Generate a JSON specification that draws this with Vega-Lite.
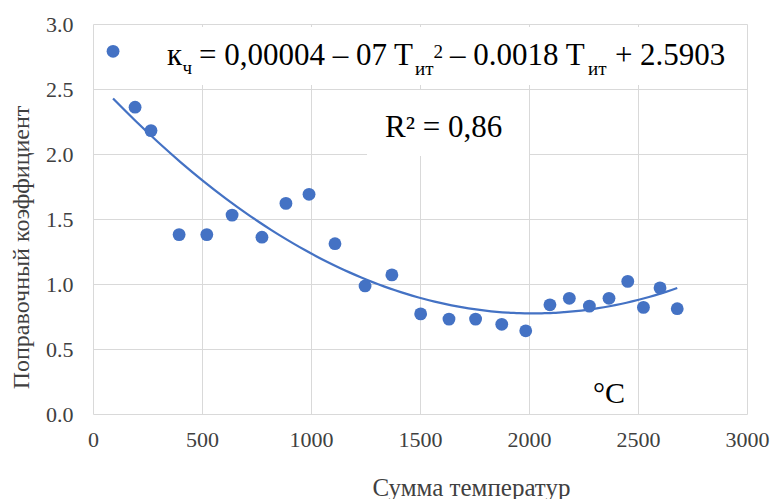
{
  "$schema": "https://vega.github.io/schema/vega-lite/v6.json",
  "width": 654,
  "height": 390,
  "autosize": "none",
  "padding": {"left": 93, "top": 24, "right": 26, "bottom": 85},
  "background": "white",
  "config": {
    "font": "Liberation Serif",
    "view": {"stroke": null},
    "axis": {
      "grid": true,
      "gridColor": "#d9d9d9",
      "gridWidth": 1,
      "domain": false,
      "ticks": false,
      "labelFlush": false,
      "labelFont": "Liberation Serif",
      "labelFontSize": 22,
      "labelColor": "#404040",
      "titleFont": "Liberation Serif",
      "titleFontWeight": "normal",
      "titleColor": "#404040"
    }
  },
  "data": {
    "values": [
      {"t": 92, "k": 2.79},
      {"t": 193, "k": 2.36},
      {"t": 266, "k": 2.18},
      {"t": 395, "k": 1.38},
      {"t": 522, "k": 1.38},
      {"t": 638, "k": 1.53},
      {"t": 775, "k": 1.36},
      {"t": 885, "k": 1.62},
      {"t": 991, "k": 1.69},
      {"t": 1110, "k": 1.31},
      {"t": 1248, "k": 0.985},
      {"t": 1371, "k": 1.07},
      {"t": 1503, "k": 0.77},
      {"t": 1633, "k": 0.73},
      {"t": 1755, "k": 0.73},
      {"t": 1875, "k": 0.69},
      {"t": 1985, "k": 0.64},
      {"t": 2096, "k": 0.84},
      {"t": 2185, "k": 0.89},
      {"t": 2277, "k": 0.83},
      {"t": 2367, "k": 0.89},
      {"t": 2453, "k": 1.02},
      {"t": 2525, "k": 0.82},
      {"t": 2601, "k": 0.97},
      {"t": 2680, "k": 0.81}
    ]
  },
  "encoding": {
    "x": {
      "field": "t", "type": "quantitative",
      "scale": {"domain": [0, 3000], "nice": false, "zero": true},
      "axis": {
        "values": [0, 500, 1000, 1500, 2000, 2500, 3000],
        "format": "d",
        "labelPadding": 15,
        "title": "Сумма температур",
        "titleFontSize": 25,
        "titleX": 378, "titleY": 81, "titleAlign": "center", "titleBaseline": "alphabetic"
      }
    },
    "y": {
      "field": "k", "type": "quantitative",
      "scale": {"domain": [0, 3], "nice": false},
      "axis": {
        "values": [0, 0.5, 1, 1.5, 2, 2.5, 3],
        "format": ".1f",
        "labelPadding": 20,
        "title": "Поправочный коэффициент",
        "titleFontSize": 24,
        "titleX": -72, "titleY": 223, "titleAlign": "center", "titleBaseline": "middle", "titleAngle": 270
      }
    }
  },
  "layer": [
    {
      "transform": [{"filter": "datum.t == 92"}],
      "mark": {"type": "rect", "fill": "white", "stroke": null},
      "encoding": {
        "x": {"datum": 262}, "x2": {"datum": 2945},
        "y": {"datum": 2.977}, "y2": {"datum": 2.531}
      }
    },
    {
      "transform": [{"filter": "datum.t == 92"}],
      "mark": {"type": "rect", "fill": "white", "stroke": null},
      "encoding": {
        "x": {"datum": 1257}, "x2": {"datum": 2000},
        "y": {"datum": 2.492}, "y2": {"datum": 1.985}
      }
    },
    {
      "transform": [{"regression": "k", "on": "t", "method": "poly", "order": 2}],
      "mark": {"type": "line", "color": "#4472C4", "strokeWidth": 2.25, "interpolate": "monotone"}
    },
    {
      "mark": {"type": "point", "filled": true, "shape": "circle", "size": 165, "color": "#4472C4", "opacity": 1}
    },
    {
      "transform": [{"filter": "datum.t == 92"}],
      "mark": {"type": "text", "align": "left", "baseline": "alphabetic", "fontSize": 31, "fill": "black", "text": "к"},
      "encoding": {"x": {"datum": 339}, "y": {"datum": 2.685}}
    },
    {
      "transform": [{"filter": "datum.t == 92"}],
      "mark": {"type": "text", "align": "left", "baseline": "alphabetic", "fontSize": 19, "fill": "black", "text": "ч"},
      "encoding": {"x": {"datum": 410}, "y": {"datum": 2.612}}
    },
    {
      "transform": [{"filter": "datum.t == 92"}],
      "mark": {"type": "text", "align": "left", "baseline": "alphabetic", "fontSize": 31, "fill": "black", "text": "= 0,00004 – 07 T"},
      "encoding": {"x": {"datum": 486}, "y": {"datum": 2.685}}
    },
    {
      "transform": [{"filter": "datum.t == 92"}],
      "mark": {"type": "text", "align": "left", "baseline": "alphabetic", "fontSize": 19, "fill": "black", "text": "ит"},
      "encoding": {"x": {"datum": 1477}, "y": {"datum": 2.608}}
    },
    {
      "transform": [{"filter": "datum.t == 92"}],
      "mark": {"type": "text", "align": "left", "baseline": "alphabetic", "fontSize": 19, "fill": "black", "text": "2"},
      "encoding": {"x": {"datum": 1562}, "y": {"datum": 2.738}}
    },
    {
      "transform": [{"filter": "datum.t == 92"}],
      "mark": {"type": "text", "align": "left", "baseline": "alphabetic", "fontSize": 31, "fill": "black", "text": "– 0.0018 T"},
      "encoding": {"x": {"datum": 1638}, "y": {"datum": 2.685}}
    },
    {
      "transform": [{"filter": "datum.t == 92"}],
      "mark": {"type": "text", "align": "left", "baseline": "alphabetic", "fontSize": 19, "fill": "black", "text": "ит"},
      "encoding": {"x": {"datum": 2271}, "y": {"datum": 2.608}}
    },
    {
      "transform": [{"filter": "datum.t == 92"}],
      "mark": {"type": "text", "align": "left", "baseline": "alphabetic", "fontSize": 31, "fill": "black", "text": "+ 2.5903"},
      "encoding": {"x": {"datum": 2394}, "y": {"datum": 2.685}}
    },
    {
      "transform": [{"filter": "datum.t == 92"}],
      "mark": {"type": "text", "align": "left", "baseline": "alphabetic", "fontSize": 31, "fill": "black", "text": "R² = 0,86"},
      "encoding": {"x": {"datum": 1340}, "y": {"datum": 2.131}}
    },
    {
      "transform": [{"filter": "datum.t == 92"}],
      "mark": {"type": "text", "align": "left", "baseline": "alphabetic", "fontSize": 30, "fill": "black", "text": "°C"},
      "encoding": {"x": {"datum": 2294}, "y": {"datum": 0.085}}
    }
  ]
}
